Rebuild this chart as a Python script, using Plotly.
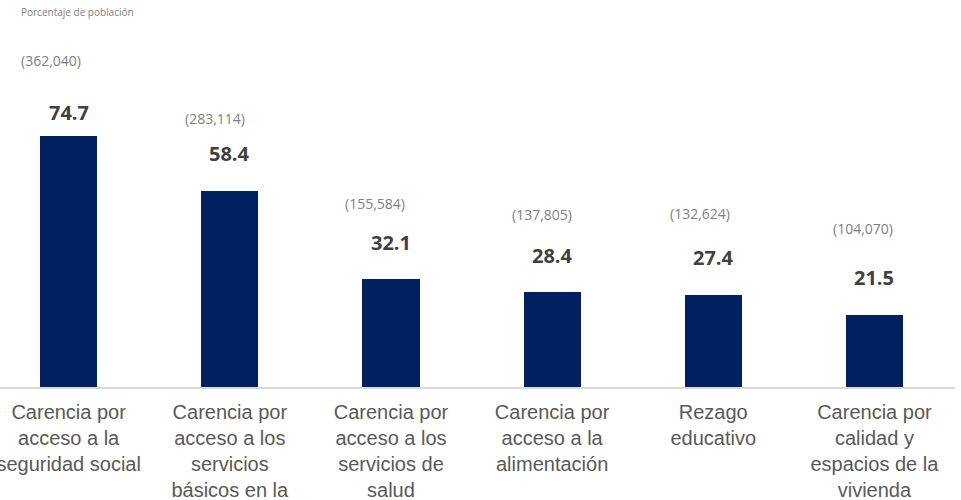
import plotly.graph_objects as go

categories = [
    "Carencia por<br>acceso a la<br>seguridad social",
    "Carencia por<br>acceso a los<br>servicios<br>básicos en la<br>vivienda",
    "Carencia por<br>acceso a los<br>servicios de<br>salud",
    "Carencia por<br>acceso a la<br>alimentación",
    "Rezago<br>educativo",
    "Carencia por<br>calidad y<br>espacios de la<br>vivienda",
]
percent = [74.7, 58.4, 32.1, 28.4, 27.4, 21.5]
population = ["(362,040)", "(283,114)", "(155,584)", "(137,805)", "(132,624)", "(104,070)"]

# label placement (pixels above bar top / horizontal shift)
value_shift = [24, 37, 37, 36, 37, 37]
pop_shift = [76, 72, 76, 77, 81, 86]
pop_xshift = [-18, -15, -16, -10, -13, -11]

fig = go.Figure()
fig.add_trace(go.Bar(
    x=list(range(len(categories))),
    y=percent,
    width=0.355,
    marker=dict(color="#002060", line=dict(width=0)),
    hoverinfo="skip",
))

for i, (v, p) in enumerate(zip(percent, population)):
    fig.add_annotation(
        x=i, y=v, xref="x", yref="y", text=f"<b>{v:.1f}</b>",
        showarrow=False, yanchor="middle", yshift=value_shift[i],
        font=dict(family="Open Sans", size=20, color="#404040"),
    )
    fig.add_annotation(
        x=i, y=v, xref="x", yref="y", text=p,
        showarrow=False, yanchor="middle", yshift=pop_shift[i], xshift=pop_xshift[i],
        font=dict(family="Open Sans", size=14, color="#808080"),
    )

fig.add_annotation(
    x=0, y=1, xref="paper", yref="paper", text="Porcentaje de población",
    showarrow=False, xanchor="left", yanchor="top", xshift=19, yshift=-3,
    font=dict(family="Open Sans", size=10, color="#808080"),
)

fig.update_layout(
    width=961, height=500,
    margin=dict(l=0, r=6, t=0, b=113, autoexpand=False),
    paper_bgcolor="white", plot_bgcolor="white",
    showlegend=False,
    bargap=0,
)
fig.update_xaxes(
    range=[-0.426, 5.5],
    tickmode="array",
    tickvals=list(range(len(categories))),
    ticktext=categories,
    tickfont=dict(family="Liberation Sans, Arial", size=20, color="#595959"),
    showline=True, linecolor="#d9d9d9", linewidth=2,
    showgrid=False, zeroline=False, ticks="",
    tickangle=0, automargin=False, ticklabeloverflow="allow",
    ticklabelstandoff=6,
)
fig.update_yaxes(
    range=[0, 115.2], visible=False, showgrid=False, zeroline=False,
    automargin=False,
)

fig.write_html(
    "out.html",
    config={"displayModeBar": False},
    post_script="document.body.style.margin='0';document.body.style.overflow='hidden';",
)
